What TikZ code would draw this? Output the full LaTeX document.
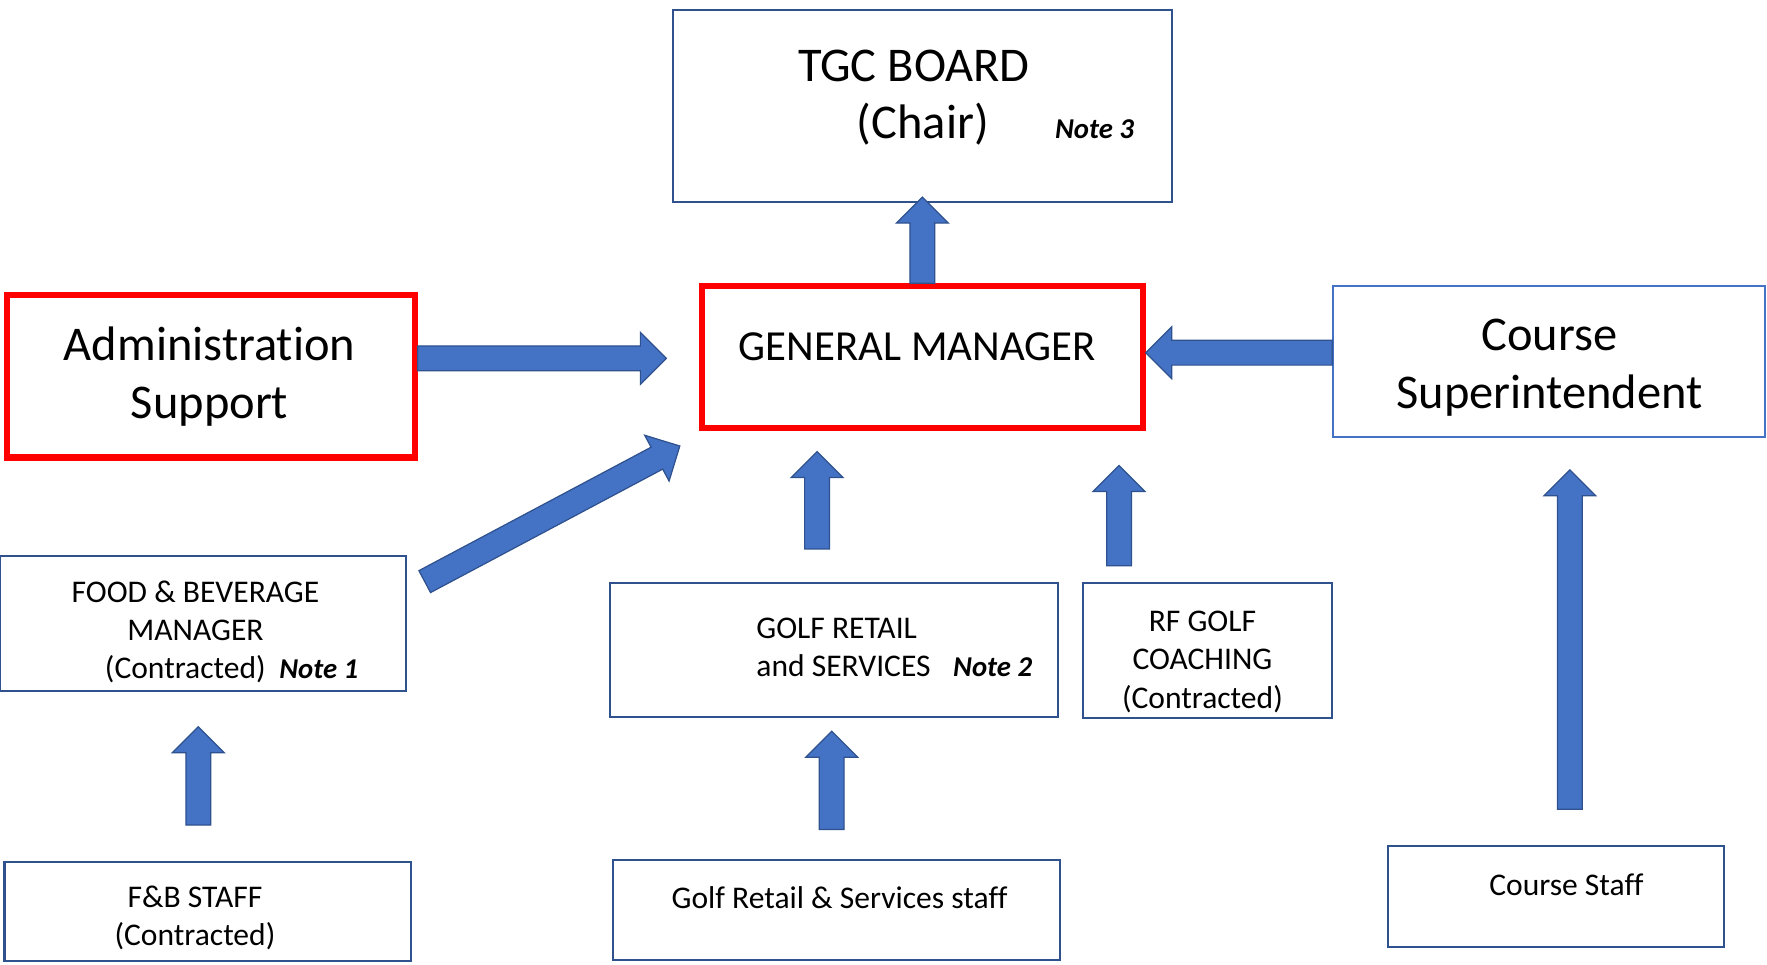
\documentclass[tikz,border=0pt]{standalone}
\usepackage{fontspec}
\setmainfont{Carlito}[Ligatures={NoCommon,NoContextual}]
\usetikzlibrary{calc,positioning}
\definecolor{orgblue}{RGB}{47,82,143}
\definecolor{orglight}{RGB}{68,114,196}
\definecolor{orgred}{RGB}{255,0,0}
\newcommand{\notetext}[1]{{\fontsize{25.5}{30}\selectfont\bfseries\itshape #1}}
% block arrow from tail to tip
\newcommand{\orgarrow}[2]{%
 \filldraw[blockarrow] let \p1=#1, \p2=#2,
 \n1={atan2(\y2-\y1,\x2-\x1)}, \n2={veclen(\x2-\x1,\y2-\y1)} in
 [shift={(\p1)},rotate=\n1]
 (0pt,-11pt) -- (\n2-23pt,-11pt) -- (\n2-23pt,-23pt) -- (\n2,0pt)
 -- (\n2-23pt,23pt) -- (\n2-23pt,11pt) -- (0pt,11pt) -- cycle;}

\begin{document}
\begin{tikzpicture}[x=1pt,y=-1pt,
 box/.style={draw=orgblue,line width=1.8pt,inner sep=0pt},
 lightbox/.style={draw=orglight,line width=1.8pt,inner sep=0pt},
 keybox/.style={draw=orgred,line width=5.5pt,inner sep=0pt},
 bigtxt/.style={inner sep=0pt,align=center,font=\fontsize{43}{51}\selectfont},
 smalltxt/.style={inner sep=0pt,align=center,font=\fontsize{28}{34}\selectfont},
 blockarrow/.style={fill=orglight,draw=orgblue,line width=1.1pt,line join=miter}]
\useasboundingbox (0,0) rectangle (1568,856);
% boxes
\node[box,minimum width=443pt,minimum height=170pt] (tgc) at (818.5,94) {};
\node[keybox,minimum width=391pt,minimum height=126pt] (gm) at (818.5,317) {};
\node[keybox,minimum width=362pt,minimum height=144pt] (admin) at (187,334) {};
\node[lightbox,minimum width=383pt,minimum height=134pt] (cs) at (1374.5,321) {};
\node[box,minimum width=360pt,minimum height=120pt] (fbm) at (180,553) {};
\node[box,minimum width=398pt,minimum height=119pt] (gr) at (740,576.5) {};
\node[box,minimum width=221pt,minimum height=120pt] (rf) at (1071.5,577) {};
\node[box,minimum width=361pt,minimum height=88pt] (fbs) at (184.5,809) {};
\node[box,minimum width=397pt,minimum height=89pt] (grs) at (742.5,807.5) {};
\node[box,minimum width=298pt,minimum height=89pt] (cstaff) at (1381,795.5) {};
% texts
\node[bigtxt,anchor=north] (tgctxt) at (811,44) {TGC BOARD\\\hspace*{16pt}(Chair)};
\node[anchor=base west,inner sep=0pt] (note3) at (936,123) {\notetext{Note 3}};
\node[inner sep=0pt,font=\fontsize{38}{45}\selectfont] (gmtxt) at (814,308) {GENERAL MANAGER};
\node[bigtxt,anchor=north] (admintxt) at (186,290) {Administration\\Support};
\node[bigtxt,anchor=north] (cstxt) at (1375,283) {Course\\Superintendent};
\node[smalltxt,anchor=north] (fbmtxt) at (173.5,515)
 {FOOD \& BEVERAGE\\MANAGER\\\hspace*{64pt}(Contracted)\hspace{12pt}\notetext{Note 1}};
\node[smalltxt,align=left,anchor=north west] (grtxt) at (671,548)
 {GOLF RETAIL\\and SERVICES\hspace{20pt}\notetext{Note 2}};
\node[smalltxt,anchor=north] (rftxt) at (1067,542) {RF GOLF\\COACHING\\(Contracted)};
\node[smalltxt,anchor=north] (fbstxt) at (173,786) {F\&B STAFF\\(Contracted)};
\node[smalltxt,anchor=base] (grstxt) at (745,806) {Golf Retail \& Services staff};
\node[smalltxt,anchor=base] (cstafftxt) at (1390,795) {Course Staff};
% reporting lines
\orgarrow{(gm.north)}{($(tgc.south)+(0,-5)$)}
\orgarrow{($(admin.east)+(0,-16)$)}{($(gm.west)+(-29,1)$)}
\orgarrow{($(cs.west)+(0,-8)$)}{($(gm.east)+(0,-4)$)}
\orgarrow{($(fbm.north east)+(16,24)$)}{($(gm.south west)+(-17,13)$)}
\orgarrow{($(gr.north)+(-15,-29)$)}{($(gm.south)+(-93.5,18)$)}
\orgarrow{($(rf.north)+(-78.5,-14)$)}{($(rf.north)+(-78.5,-103)$)}
\orgarrow{($(fbs.north)+(-8.5,-32)$)}{($(fbm.south)+(-4,31)$)}
\orgarrow{($(grs.north)+(-4.5,-26)$)}{($(gr.south)+(-2,12)$)}
\orgarrow{($(cstaff.north)+(12,-32)$)}{($(cs.south)+(18.5,28)$)}
\end{tikzpicture}
\end{document}
